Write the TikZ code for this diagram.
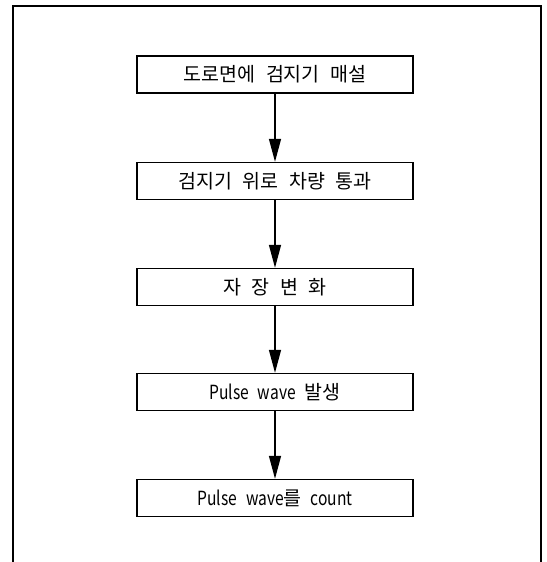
\documentclass[tikz,border=0pt]{standalone}
\usepackage{fontspec}
\setmainfont{Noto Sans CJK KR}[WordSpace={2.4}]
\newfontfamily\latinnarrow{Noto Sans CJK KR}[FakeStretch=0.8]
\newcommand{\wgap}{\hspace{9pt}}
\usetikzlibrary{arrows.meta}
\begin{document}
\begin{tikzpicture}[x=1pt,y=-1pt,
  stepbox/.style={draw,line width=1.4pt,minimum width=276pt,minimum height=37pt,inner sep=0pt,font=\fontsize{19.5}{21}\selectfont},
  flow/.style={line width=1.4pt,-{Triangle[length=23pt,width=12pt]}}]
\useasboundingbox (0,0) rectangle (546,562);
\draw[line width=2pt] (13,563) -- (13,6) -- (541,6) -- (541,563);
\node[stepbox] (b1) at (275,74.5) {도로면에 검지기 매설};
\node[stepbox] (b2) at (275,181) {검지기 위로 차량 통과};
\node[stepbox] (b3) at (275,287) {자 장 변 화};
\node[stepbox] (b4) at (275,392) {{\latinnarrow Pulse\wgap wave}\wgap 발생};
\node[stepbox] (b5) at (275,498) {{\latinnarrow Pulse\wgap wave}를\wgap{\latinnarrow count}};
\draw[flow] (b1) -- (b2);
\draw[flow] (b2) -- (b3);
\draw[flow] (b3) -- (b4);
\draw[flow] (b4) -- (b5);
\end{tikzpicture}
\end{document}
